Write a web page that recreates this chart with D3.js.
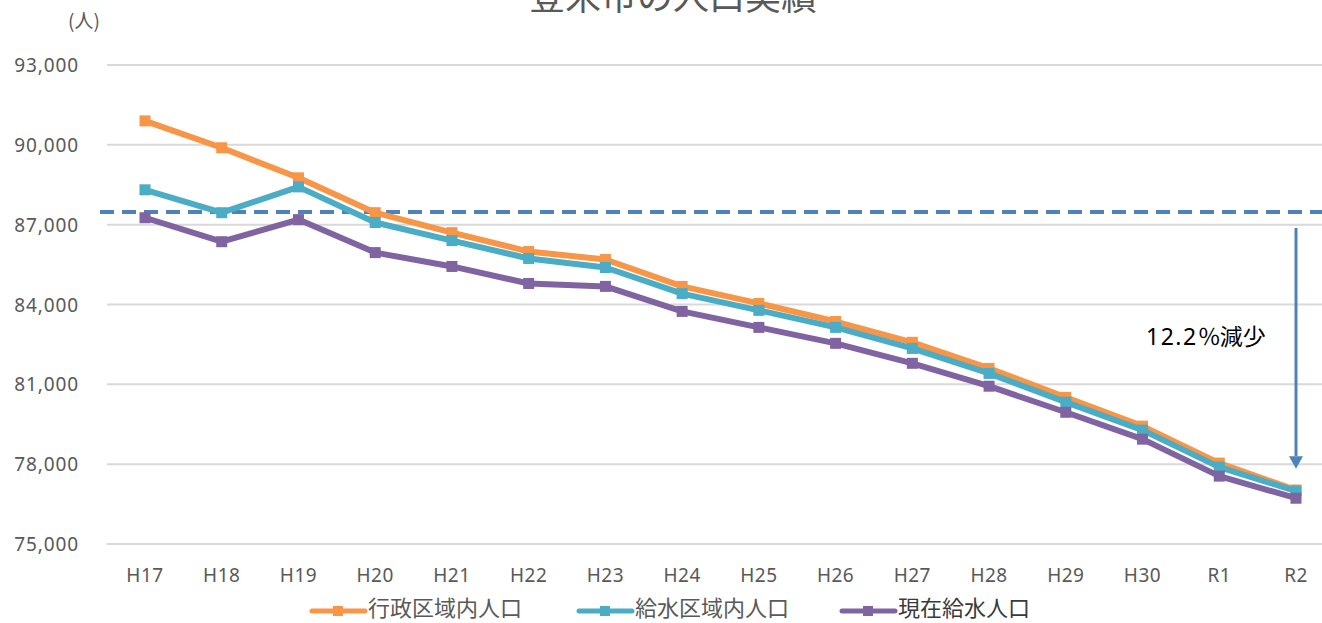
<!DOCTYPE html>
<html><head><meta charset="utf-8">
<script src="https://cdn.jsdelivr.net/npm/d3@7"></script>
<style>body{margin:0;background:#fff}svg{display:block}</style>
</head><body>
<svg id="c" width="1322" height="623"></svg>
<script>
const categories = ["H17","H18","H19","H20","H21","H22","H23","H24","H25","H26","H27","H28","H29","H30","R1","R2"];
const gyousei = [90900,89890,88760,87450,86700,85990,85690,84680,84040,83360,82580,81600,80510,79430,78040,77030];
const kyusuiKuiki = [88310,87450,88420,87080,86400,85730,85390,84410,83780,83140,82350,81410,80330,79280,77890,76990];
const genzai = [87260,86360,87190,85950,85430,84790,84680,83740,83140,82540,81790,80930,79950,78940,77550,76720];
const yTicks = [75000,78000,81000,84000,87000,90000,93000];
const refLine = 87480;
const seriesNames = ["行政区域内人口","給水区域内人口","現在給水人口"];
const colors = ["#F79646","#4BACC6","#8064A2"];
const series = [gyousei, kyusuiKuiki, genzai];

const svg = d3.select("#c");
const font = "'Noto Sans','Noto Sans CJK JP',sans-serif";
const cjk = "'Noto Sans CJK JP',sans-serif";
const x = d3.scalePoint().domain(categories).range([145,1296]).padding(0);
const y = d3.scaleLinear().domain([75000,93000]).range([544,65]);

// gridlines
svg.append("g").selectAll("line").data(yTicks).join("line")
  .attr("x1",107).attr("x2",1322).attr("y1",d=>y(d)).attr("y2",d=>y(d))
  .attr("stroke","#D9D9D9").attr("stroke-width",2);

// y axis labels
svg.append("g").selectAll("text").data(yTicks).join("text")
  .attr("x",79).attr("y",d=>y(d)+7).attr("text-anchor","end")
  .attr("font-family",font).attr("font-size",19).attr("letter-spacing",0.9).attr("fill","#595959")
  .text(d=>d3.format(",")(d));

// x labels
svg.append("g").selectAll("text").data(categories).join("text")
  .attr("x",d=>x(d)).attr("y",582).attr("text-anchor","middle")
  .attr("font-family",font).attr("font-size",19).attr("letter-spacing",0.5).attr("fill","#595959")
  .text(d=>d);

// unit
svg.append("text").attr("x",84).attr("y",28).attr("text-anchor","middle")
  .attr("font-family",cjk).attr("font-size",19).attr("fill","#595959").text("(人)");

// title (partly outside the top edge, as in the reference)
svg.append("text").attr("x",673).attr("y",10).attr("text-anchor","middle")
  .attr("font-family",cjk).attr("font-size",36).attr("fill","#595959").text("登米市の人口実績");

// dashed reference line
svg.append("line").attr("x1",100).attr("x2",1322).attr("y1",y(refLine)).attr("y2",y(refLine))
  .attr("stroke","#4F81BD").attr("stroke-width",4).attr("stroke-dasharray","14,8");

// lines
const line = d3.line().x((d,i)=>x(categories[i])).y(d=>y(d));
series.forEach((s,k)=>{
  svg.append("path").datum(s).attr("d",line).attr("fill","none")
    .attr("stroke",colors[k]).attr("stroke-width",6).attr("stroke-linejoin","round");
  svg.append("g").selectAll("rect").data(s).join("rect")
    .attr("x",(d,i)=>x(categories[i])-5.5).attr("y",d=>y(d)-5.5)
    .attr("width",11).attr("height",11).attr("fill",colors[k]);
});

// arrow
const ax = x("R2");
svg.append("line").attr("x1",ax).attr("x2",ax).attr("y1",228).attr("y2",y(78300))
  .attr("stroke","#4F81BD").attr("stroke-width",3);
svg.append("path").attr("d",`M${ax-7},${y(78300)} L${ax+7},${y(78300)} L${ax},${y(77900)+2} Z`).attr("fill","#4F81BD");

const ann = svg.append("text").attr("x",1146).attr("y",345)
  .attr("font-family",font).attr("font-size",23).attr("fill","#000");
ann.append("tspan").attr("letter-spacing",1.5).text("12.2");
ann.append("tspan").attr("font-family",cjk).text("％");
ann.append("tspan").attr("font-family",cjk).attr("dx",-1).text("減少");

// legend
const legX = [310,577,840];
const leg = svg.append("g").selectAll("g").data(seriesNames).join("g")
  .attr("transform",(d,i)=>`translate(${legX[i]},611)`);
leg.append("line").attr("x1",2).attr("x2",55).attr("y1",0).attr("y2",0)
  .attr("stroke",(d,i)=>colors[i]).attr("stroke-width",5).attr("stroke-linecap","round");
leg.append("rect").attr("x",23).attr("y",-5).attr("width",10).attr("height",10).attr("fill",(d,i)=>colors[i]);
leg.append("text").attr("x",58).attr("y",5).attr("font-family",cjk)
  .attr("font-size",22).attr("fill",(d,i)=>i===2?"#3a3a3a":"#595959")
  .text(d=>d);
</script>
</body></html>
